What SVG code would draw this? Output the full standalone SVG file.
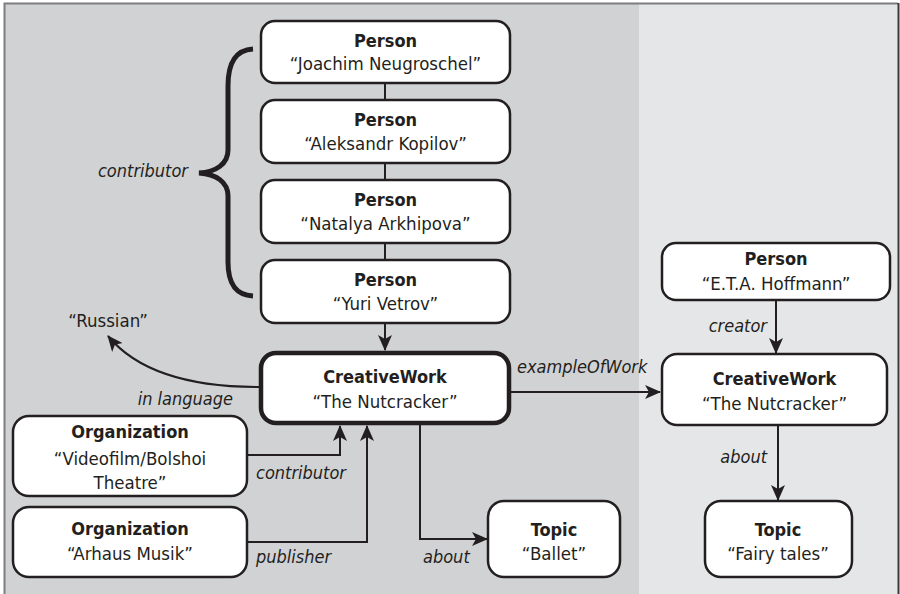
<svg xmlns="http://www.w3.org/2000/svg" width="900" height="594" viewBox="0 0 900 594">
<defs>
<style>
.bg1{fill:#d1d2d4}
.bg2{fill:#e5e6e8}
.node{fill:#fff;stroke:#231f20;stroke-width:2.5}
.main{fill:#fff;stroke:#231f20;stroke-width:4.5}
.t{font-family:"DejaVu Sans Condensed","DejaVu Sans",sans-serif;font-stretch:condensed;font-size:18.5px;fill:#231f20;text-anchor:middle}
.b{font-weight:bold;font-size:18px}
.lbl{font-family:"DejaVu Sans Condensed","DejaVu Sans",sans-serif;font-stretch:condensed;font-size:18px;font-style:italic;fill:#231f20}
.edge{fill:none;stroke:#231f20;stroke-width:2}
</style>
<marker id="arr" markerUnits="userSpaceOnUse" markerWidth="16" markerHeight="14" refX="15" refY="7" orient="auto">
<path d="M0,0 L16,7 L0,14 L4,7 z" fill="#231f20"/>
</marker>
</defs>
<rect class="bg1" x="4" y="4" width="635" height="590"/>
<rect class="bg2" x="639" y="4" width="259" height="590"/>
<path d="M4.5,594 V3.5 H898" fill="none" stroke="#7d7d7f" stroke-width="2"/>
<path d="M898.5,3 V594" fill="none" stroke="#3a3a3a" stroke-width="2"/>

<g id="connectors">
<line class="edge" x1="385" y1="83" x2="385" y2="100"/>
<line class="edge" x1="385" y1="163" x2="385" y2="180"/>
<line class="edge" x1="385" y1="243" x2="385" y2="260"/>
<line class="edge" x1="385" y1="323" x2="385" y2="350" marker-end="url(#arr)"/>
<path class="edge" d="M259,387 Q150,387 108,336" marker-end="url(#arr)"/>
<path class="edge" d="M247,455 H340 V426" marker-end="url(#arr)"/>
<path class="edge" d="M247,542 H367 V426" marker-end="url(#arr)"/>
<path class="edge" d="M420,425 V539 H487" marker-end="url(#arr)"/>
<line class="edge" x1="511" y1="392" x2="660" y2="392" marker-end="url(#arr)"/>
<line class="edge" x1="776" y1="300" x2="776" y2="353" marker-end="url(#arr)"/>
<line class="edge" x1="778" y1="425" x2="778" y2="500" marker-end="url(#arr)"/>
<path d="M253,49 C236,50 228,62 228,86 L228,150 C228,164 216,172 199,173 C216,174 228,182 228,196 L228,262 C228,284 236,295 253,296" fill="none" stroke="#231f20" stroke-width="5"/>
<text class="lbl" x="188" y="177" text-anchor="end">contributor</text>
<text class="lbl" x="233" y="405" text-anchor="end">in language</text>
<text class="lbl" x="256" y="479">contributor</text>
<text class="lbl" x="256" y="563">publisher</text>
<text class="lbl" x="423" y="563">about</text>
<text class="lbl" x="517" y="373">exampleOfWork</text>
<text class="lbl" x="767" y="332" text-anchor="end">creator</text>
<text class="lbl" x="767" y="463" text-anchor="end">about</text>
</g>

<g id="person1">
<rect class="node" x="261" y="21" width="249" height="62" rx="14"/>
<text class="t b" x="385.5" y="47">Person</text>
<text class="t" x="385.5" y="70">“Joachim Neugroschel”</text>
</g>
<g id="person2">
<rect class="node" x="261" y="100" width="249" height="63" rx="14"/>
<text class="t b" x="385.5" y="126">Person</text>
<text class="t" x="385.5" y="150">“Aleksandr Kopilov”</text>
</g>
<g id="person3">
<rect class="node" x="261" y="180" width="249" height="63" rx="14"/>
<text class="t b" x="385.5" y="206">Person</text>
<text class="t" x="385.5" y="230">“Natalya Arkhipova”</text>
</g>
<g id="person4">
<rect class="node" x="261" y="260" width="249" height="63" rx="14"/>
<text class="t b" x="385.5" y="286">Person</text>
<text class="t" x="385.5" y="310">“Yuri Vetrov”</text>
</g>
<g id="russian">
<text class="t" x="108" y="327">“Russian”</text>
</g>
<g id="creativework">
<rect class="main" x="261" y="353" width="248" height="70" rx="15"/>
<text class="t b" x="385" y="383">CreativeWork</text>
<text class="t" x="385" y="408">“The Nutcracker”</text>
</g>
<g id="org1">
<rect class="node" x="13" y="416" width="234" height="80" rx="16"/>
<text class="t b" x="130" y="438">Organization</text>
<text class="t" x="130" y="465">“Videofilm/Bolshoi</text>
<text class="t" x="130" y="489">Theatre”</text>
</g>
<g id="org2">
<rect class="node" x="13" y="507" width="234" height="70" rx="16"/>
<text class="t b" x="130" y="535">Organization</text>
<text class="t" x="130" y="560">“Arhaus Musik”</text>
</g>
<g id="topic-ballet">
<rect class="node" x="488" y="501" width="132" height="76" rx="16"/>
<text class="t b" x="554" y="536">Topic</text>
<text class="t" x="554" y="560">“Ballet”</text>
</g>
<g id="person-hoffmann">
<rect class="node" x="662" y="243" width="228" height="57" rx="14"/>
<text class="t b" x="776" y="265">Person</text>
<text class="t" x="776" y="290">“E.T.A. Hoffmann”</text>
</g>
<g id="creativework2">
<rect class="node" x="662" y="354" width="225" height="71" rx="15"/>
<text class="t b" x="774.5" y="385">CreativeWork</text>
<text class="t" x="774.5" y="410">“The Nutcracker”</text>
</g>
<g id="topic-fairy">
<rect class="node" x="705" y="501" width="147" height="76" rx="16"/>
<text class="t b" x="778" y="536">Topic</text>
<text class="t" x="778" y="560">“Fairy tales”</text>
</g>
</svg>
